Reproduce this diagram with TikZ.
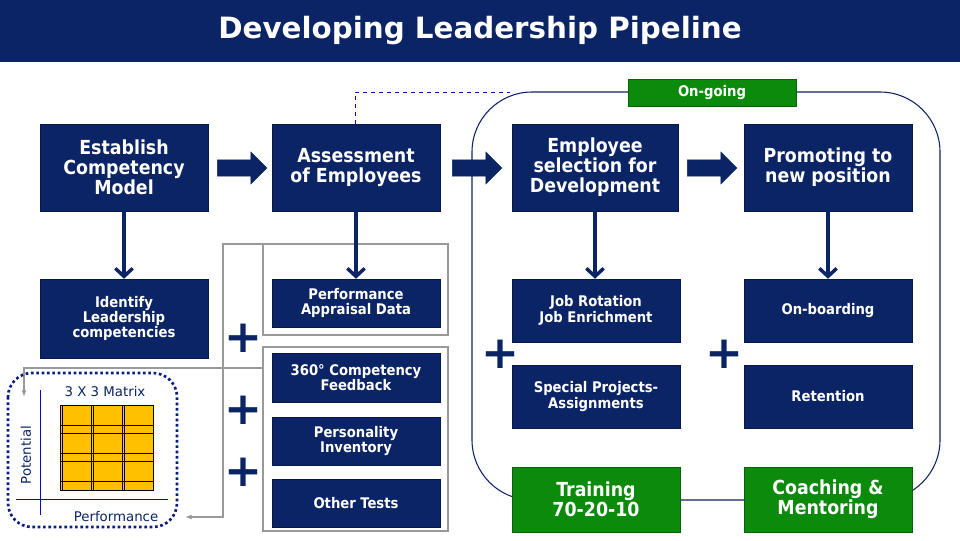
\documentclass[tikz,border=0pt]{standalone}
\usepackage{fontspec}
\setmainfont{DejaVu Sans}
\newfontfamily\cond{DejaVu Sans Condensed}
\usetikzlibrary{shapes.arrows,arrows.meta}
\definecolor{navy}{HTML}{0B2466}
\definecolor{gbox}{HTML}{0B8A0B}
\definecolor{mgold}{HTML}{FFC000}
\tikzset{
 bx/.style={fill=navy,draw=navy!70!black,text=white,font=\cond\bfseries,align=center,inner sep=0pt,drop shadow/.try},
 big/.style={bx,font=\cond\bfseries\fontsize{14.5}{15}\selectfont},
 sml/.style={bx,font=\cond\bfseries\fontsize{11}{11.5}\selectfont},
 grn/.style={bx,fill=gbox,draw=gbox!70!black,font=\cond\bfseries\fontsize{14.5}{15}\selectfont},
 rarr/.style={single arrow,fill=navy,draw=navy,minimum height=37pt,minimum width=24pt,single arrow head extend=4pt,inner sep=4pt},
 darr/.style={navy,line width=2.6pt,-{Straight Barb[length=6pt,width=13pt,line width=2.6pt]}},
 grey/.style={draw=gray!80,line width=1.3pt},
 plus/.style={font=\bfseries\fontsize{34}{34}\selectfont,text=navy},
}
\newcommand{\bxat}[5]{\node[#1,minimum width={(#4-#2)*0.75pt},minimum height={(#5-#3)*0.75pt}] at ({(#2+#4)/2},{(#3+#5)/2})}
\begin{document}
\begin{tikzpicture}[x=0.75pt,y=-0.75pt]
\useasboundingbox (0,0) rectangle (960,540);
\fill[white] (0,0) rectangle (960,540);
\fill[navy] (0,0) rectangle (960,62);
\node[text=white,font=\bfseries\fontsize{22}{24}\selectfont] (title) at (480,31) {Developing Leadership Pipeline};
% frame
\draw[navy,line width=0.8pt,rounded corners=45pt] (472,92) rectangle (940,500);
\draw[blue!60!navy,dashed,line width=0.5pt] (355,124) -- (355,92) -- (510,92);
% grey
\draw[grey] (263,244) rectangle (448,335);
\draw[grey] (263,347) rectangle (448,531);
\draw[gray!80,line width=1pt,-{Latex[length=5pt]}] (263,244) -- (223,244) -- (223,517) -- (185,517);
\draw[gray!80,line width=1pt,-{Latex[length=5pt]}] (263,368) -- (24,368) -- (24,397);
% matrix box
\draw[navy!80!blue,dotted,line width=2pt,rounded corners=18pt] (8,373) rectangle (177,527);
\draw[blue!70!navy,line width=0.5pt] (40,390) -- (40,515);
\draw[blue!70!navy,line width=0.5pt] (16,499) -- (168,499);
\fill[mgold] (60,405) rectangle (153,490);
\draw[black,line width=0.6pt] (60,405) grid[xstep=31,ystep=-28.33] (153,490);
\draw[black,line width=0.6pt] (60,405) rectangle (153,490);
\draw[black,line width=0.6pt] (91,405)--(91,490) (122,405)--(122,490) (60,433.3)--(153,433.3) (60,461.7)--(153,461.7);
\node[font=\fontsize{10}{10}\selectfont,text=navy] (mt) at (105,392) {3 X 3 Matrix};
\node[font=\fontsize{10}{10}\selectfont,text=navy,rotate=90] (pot) at (26,455) {Potential};
\node[font=\fontsize{10}{10}\selectfont,text=navy] (perf) at (116,517) {Performance};
% boxes
\bxat{big}{40}{124}{208}{211} (a) {Establish\\Competency\\Model};
\bxat{big}{272}{124}{440}{211} (b) {Assessment\\of Employees};
\bxat{big}{512}{124}{678}{211} (c) {Employee\\selection for\\Development};
\bxat{big}{744}{124}{912}{211} (d) {Promoting to\\new position};
\bxat{sml}{40}{279}{208}{358} (a1) {Identify\\Leadership\\competencies};
\bxat{sml}{272}{279}{440}{327} (b1) {Performance\\Appraisal Data};
\bxat{sml}{272}{353}{440}{402} (b2) {360° Competency\\Feedback};
\bxat{sml}{272}{417}{440}{465} (b3) {Personality\\Inventory};
\bxat{sml}{272}{479}{440}{527} (b4) {Other Tests};
\bxat{sml}{512}{279}{680}{342} (c1) {Job Rotation\\Job Enrichment};
\bxat{sml}{512}{365}{680}{428} (c2) {Special Projects-\\Assignments};
\bxat{sml}{744}{279}{912}{342} (d1) {On-boarding};
\bxat{sml}{744}{365}{912}{428} (d2) {Retention};
\bxat{grn}{512}{467}{680}{532} (t) {Training\\70-20-10};
\bxat{grn}{744}{467}{912}{532} (m) {Coaching \&\\Mentoring};
\bxat{grn,font=\cond\bfseries\fontsize{11}{11}\selectfont}{628}{79}{796}{106} (og) {On-going};
% arrows
\node[rarr] (r1) at (238,168) {};
\node[rarr] (r2) at (473,168) {};
\node[rarr] (r3) at (708,168) {};
\draw[darr] (a.south) -- (a1.north);
\draw[darr] (b.south) -- (b1.north);
\draw[darr] (595,211) -- (c1.north -| 595,0);
\draw[darr] (d.south) -- (d1.north);
% plus
\foreach \p/\q in {243/338,243/410,243/472,500/354,724/354}
  \node[plus] at (\p,\q) {+};
\end{tikzpicture}
\end{document}
